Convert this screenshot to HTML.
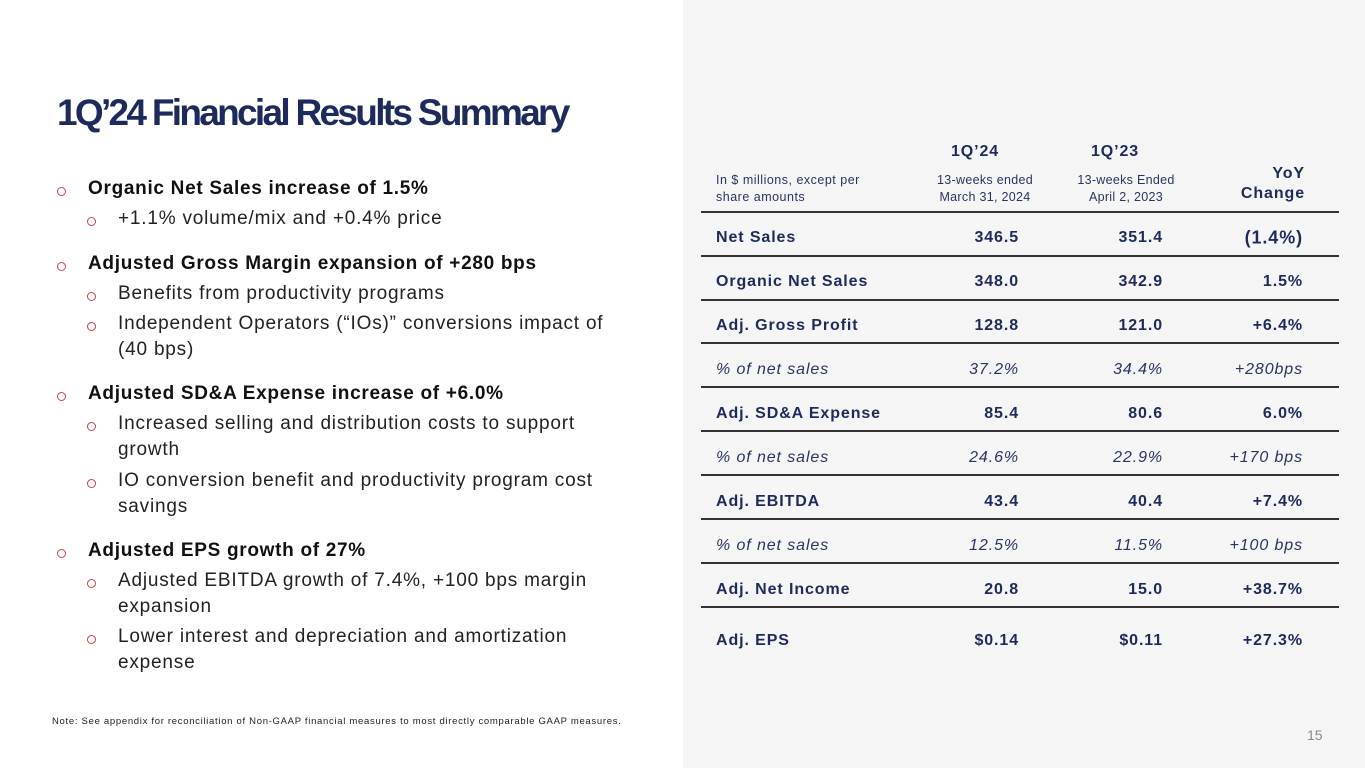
<!DOCTYPE html>
<html><head><meta charset="utf-8"><style>
body{margin:0;width:1365px;height:768px;position:relative;background:#fff;font-family:"Liberation Sans",sans-serif;overflow:hidden}
.a{position:absolute;white-space:nowrap}
#panel{position:absolute;left:683px;top:0;width:682px;height:768px;background:#f5f5f5}
.t{color:#1f2a5c;font-weight:bold;font-size:37px;letter-spacing:-2.7px;left:57px;top:92px}
.l1{left:88px;font-size:19px;font-weight:bold;color:#111;letter-spacing:0.7px}
.l2{left:118px;font-size:19px;color:#222;letter-spacing:0.8px}
.b{position:absolute;width:7px;height:7px;border:1.3px solid #c8424a;border-radius:50%}
.tx{position:absolute;color:#1f2a5c;font-size:16px;font-weight:bold;transform:translateY(-50%);letter-spacing:0.9px}
.it{font-weight:normal;font-style:italic;color:#2a3560}
.r{text-align:right}
.hl{position:absolute;left:701px;width:638px;height:2px;background:#333}
</style></head><body>
<div id="panel"></div>
<div class="a t">1Q’24 Financial Results Summary</div>
<div id="left"></div>
<div class="a" style="left:52px;top:716px;font-size:9.5px;color:#222;letter-spacing:0.7px">Note: See appendix for reconciliation of Non-GAAP financial measures to most directly comparable GAAP measures.</div>
<div class="a" style="left:1307px;top:727px;font-size:14px;color:#888">15</div>
<div id="tbl"></div>
<script>
const bullets=[[1,190,'Organic Net Sales increase of 1.5%',1],[2,220,'+1.1% volume/mix and +0.4% price',1],[1,265,'Adjusted Gross Margin expansion of +280 bps',1],[2,295,'Benefits from productivity programs',1],[2,325,'Independent Operators (“IOs)” conversions impact of',1],[2,351,'(40 bps)',0],[1,395,'Adjusted SD&A Expense increase of +6.0%',1],[2,425,'Increased selling and distribution costs to support',1],[2,451,'growth',0],[2,482,'IO conversion benefit and productivity program cost',1],[2,508,'savings',0],[1,552,'Adjusted EPS growth of 27%',1],[2,582,'Adjusted EBITDA growth of 7.4%, +100 bps margin',1],[2,608,'expansion',0],[2,638,'Lower interest and depreciation and amortization',1],[2,664,'expense',0]];
const L=document.getElementById('left');
bullets.forEach(([lv,y,t,dot])=>{
 const d=document.createElement('div');d.className='a '+(lv==1?'l1':'l2');d.style.top=(y-12)+'px';d.textContent=t;
 
 
 L.appendChild(d);
 if(dot){const b=document.createElement('div');b.className='b';b.style.left=(lv==1?57:87)+'px';b.style.top=(y-3)+'px';
 
 
 L.appendChild(b);}
});
const rowLabels=['Net Sales','Organic Net Sales','Adj. Gross Profit','% of net sales','Adj. SD&A Expense','% of net sales','Adj. EBITDA','% of net sales','Adj. Net Income','Adj. EPS'];
const q24=['346.5','348.0','128.8','37.2%','85.4','24.6%','43.4','12.5%','20.8','$0.14'];
const q23=['351.4','342.9','121.0','34.4%','80.6','22.9%','40.4','11.5%','15.0','$0.11'];
const yoy=['(1.4%)','1.5%','+6.4%','+280bps','6.0%','+170 bps','+7.4%','+100 bps','+38.7%','+27.3%'];
const rowY=[238,282,326,370,414,458,502,546,590,641];
const T=document.getElementById('tbl');
function cell(x,y,txt,cls,w,name,fs){const d=document.createElement('div');d.className='tx '+cls;d.style.left=x+'px';d.style.top=y+'px';if(w)d.style.width=w+'px';if(fs)d.style.fontSize=fs+'px';d.textContent=txt;
 
 
 T.appendChild(d);return d;}
cell(930,152,'1Q’24','',90,'header-1q24',16).style.textAlign='center';
cell(1070,152,'1Q’23','',90,'header-1q23',16).style.textAlign='center';
let h=cell(716,189,'In $ millions, except per\nshare amounts','it',200,'units-note',12.5);h.style.whiteSpace='pre';h.style.fontStyle='normal';h.style.lineHeight='17px';h.style.letterSpacing='0.5px';
h=cell(915,189,'13-weeks ended\nMarch 31, 2024','it',140,'period-1q24',12.5);h.style.whiteSpace='pre';h.style.fontStyle='normal';h.style.textAlign='center';h.style.lineHeight='17px';h.style.letterSpacing='0.3px';
h=cell(1056,189,'13-weeks Ended\nApril 2, 2023','it',140,'period-1q23',12.5);h.style.whiteSpace='pre';h.style.fontStyle='normal';h.style.textAlign='center';h.style.lineHeight='17px';h.style.letterSpacing='0.3px';
h=cell(1200,184,'YoY\nChange','',105,'header-yoy',16);h.style.whiteSpace='pre';h.style.textAlign='right';h.style.lineHeight='20px';
const lineY=[211,255,299,342,386,430,474,518,562,606];
lineY.forEach(y=>{const l=document.createElement('div');l.className='hl';l.style.top=y+'px';
 
 
 T.appendChild(l);});
rowLabels.forEach((lab,i)=>{const it=lab.startsWith('%')?'it':'';const y=rowY[i];
 cell(716,y,lab,it,null,'row-label',16);
 cell(900,y,q24[i],it+' r',119,'value-1q24',16);
 cell(1044,y,q23[i],it+' r',119,'value-1q23',16);
 cell(1184,y,yoy[i],it+' r',119,'value-yoy',i==0?18:16);
});
</script>
</body></html>
